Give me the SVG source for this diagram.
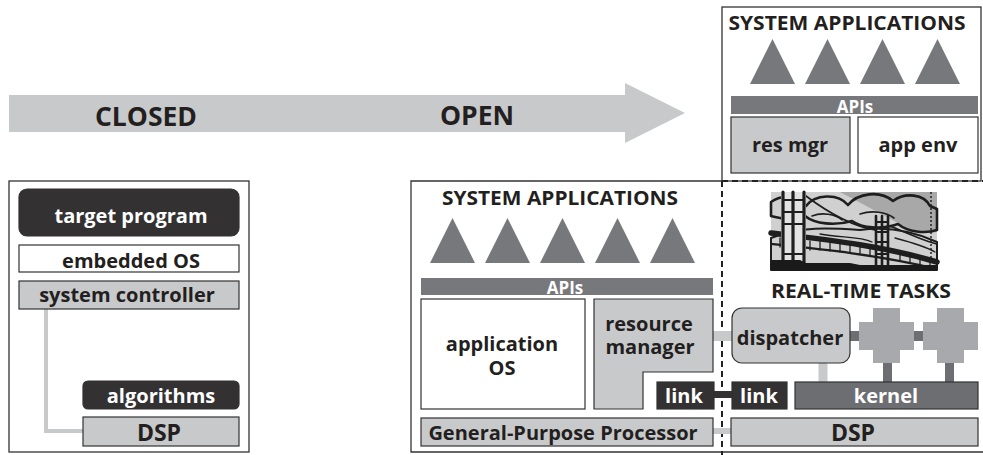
<svg xmlns="http://www.w3.org/2000/svg" width="983" height="455" viewBox="0 0 983 455">
  <defs>
    <style>
      text { font-family: "Open Sans", "Liberation Sans", sans-serif; font-weight: bold; text-anchor: middle; font-size: 20px; }
      .frame { fill: none; stroke: #333; stroke-width: 1.3; }
      .dash { fill: none; stroke: #222; stroke-width: 2; stroke-dasharray: 6 4; }
      .dark { fill: #333132; stroke: #333; stroke-width: 1.2; }
      .light { fill: #c8c9cb; stroke: #333; stroke-width: 1.2; }
      .white { fill: #fff; stroke: #333; stroke-width: 1.2; }
      .mid { fill: #77787b; }
      .kern { fill: #6d6e71; stroke: #333; stroke-width: 1.2; }
      .cross { fill: #a7a9ac; }
      .tw { fill: #fff; }
      .tb { fill: #231f20; }
      .lc { stroke: #c8c9cb; fill: none; }
      .dc { stroke: #333132; fill: none; }
      .gc { stroke: #6d6e71; fill: none; }
      .ink { fill: none; stroke: #1e1e1e; stroke-linecap: round; stroke-linejoin: round; }
    </style>
    <polygon id="tri" points="0,45 22.5,0 45,45" class="mid"/>
    <path id="plus" d="M14,0 H41 V14 H55 V42 H41 V55 H14 V42 H0 V14 H14 Z" class="cross"/>
  </defs>
  <rect width="983" height="455" fill="#fff"/>

  <!-- closed-to-open arrow -->
  <g id="arrow">
    <polygon points="9,95 625,95 625,83 685,113 625,143 625,132 9,132" fill="#c8c9cb"/>
    <text x="146" y="126" style="font-size:26.5px" class="tb">CLOSED</text>
    <text x="477" y="125" style="font-size:26.5px" class="tb">OPEN</text>
  </g>

  <!-- frames -->
  <g id="frames">
    <rect x="9" y="181" width="240" height="271" class="frame"/>
    <path d="M722,181 H411 V452 H983" class="frame"/>
    <rect x="722" y="7" width="259" height="174" class="frame"/>
    <path d="M722,181 V455" class="dash"/>
    <path d="M722,181 H983" class="dash"/>
  </g>

  <!-- connectors -->
  <g id="connectors">
    <path d="M46,309 V431 H83" class="lc" stroke-width="4"/>
    <path d="M713,336 H732" class="lc" stroke-width="10"/>
    <path d="M714,394.5 H732" class="dc" stroke-width="7"/>
    <path d="M713,431 H731" class="lc" stroke-width="6"/>
    <path d="M850,336 H859" class="gc" stroke-width="10"/>
    <path d="M913,336 H923" class="gc" stroke-width="10"/>
    <path d="M823,363 V382" class="lc" stroke-width="9"/>
    <path d="M887.5,363 V382" class="gc" stroke-width="9"/>
    <path d="M949.5,363 V382" class="gc" stroke-width="9"/>
  </g>

  <!-- closed system -->
  <g id="target-program">
    <rect x="19" y="189" width="220" height="47" rx="8" class="dark"/>
    <text x="131" y="223" class="tw">target program</text>
  </g>
  <g id="embedded-os">
    <rect x="19" y="245" width="220" height="27" class="white"/>
    <text x="131" y="268" class="tb">embedded OS</text>
  </g>
  <g id="system-controller">
    <rect x="19" y="281" width="220" height="28" class="light"/>
    <text x="127" y="302" class="tb">system controller</text>
  </g>
  <g id="algorithms">
    <rect x="83" y="381" width="156" height="28" rx="5" class="dark"/>
    <text x="161" y="403" class="tw">algorithms</text>
  </g>
  <g id="dsp-closed">
    <rect x="83" y="417" width="156" height="29" class="light"/>
    <text x="159" y="441" style="font-size:23px" class="tb">DSP</text>
  </g>

  <!-- open system, processor side -->
  <g id="apps-mid">
    <text x="560" y="205" style="font-size:19.5px" textLength="236" lengthAdjust="spacingAndGlyphs" class="tb">SYSTEM APPLICATIONS</text>
    <use href="#tri" x="430" y="218"/>
    <use href="#tri" x="485" y="218"/>
    <use href="#tri" x="540" y="218"/>
    <use href="#tri" x="595" y="218"/>
    <use href="#tri" x="650" y="218"/>
  </g>
  <g id="apis-mid">
    <rect x="421" y="278" width="292" height="17" class="mid"/>
    <text x="565" y="294" style="font-size:17px" class="tw">APIs</text>
  </g>
  <g id="application-os">
    <rect x="421" y="299" width="164" height="110" class="white"/>
    <text x="502" y="351" class="tb">application</text>
    <text x="502" y="375" class="tb">OS</text>
  </g>
  <g id="resource-manager">
    <path d="M594,299 H713 V372 H643 V409 H594 Z" class="light"/>
    <text x="649" y="331" class="tb">resource</text>
    <text x="650" y="354" class="tb">manager</text>
  </g>
  <g id="link-gpp">
    <rect x="657" y="382" width="57" height="27" class="dark"/>
    <text x="684" y="403" class="tw">link</text>
  </g>
  <g id="gpp">
    <rect x="421" y="418" width="292" height="28" class="light"/>
    <text x="563" y="440" class="tb">General-Purpose Processor</text>
  </g>

  <!-- open system, application side -->
  <g id="apps-top">
    <text x="847" y="30" style="font-size:19.5px" textLength="237" lengthAdjust="spacingAndGlyphs" class="tb">SYSTEM APPLICATIONS</text>
    <use href="#tri" x="750" y="39"/>
    <use href="#tri" x="805" y="39"/>
    <use href="#tri" x="860" y="39"/>
    <use href="#tri" x="915" y="39"/>
  </g>
  <g id="apis-top">
    <rect x="731" y="96" width="247" height="18" class="mid"/>
    <text x="855" y="113" style="font-size:17px" class="tw">APIs</text>
  </g>
  <g id="res-mgr">
    <rect x="731" y="117" width="119" height="56" class="light"/>
    <text x="790" y="152" class="tb">res mgr</text>
  </g>
  <g id="app-env">
    <rect x="858" y="117" width="120" height="56" class="white"/>
    <text x="918" y="152" class="tb">app env</text>
  </g>

  <!-- bridge illustration -->
  <g id="bridge-picture">
    <rect x="771" y="192" width="166" height="78" fill="#d0d0d0"/>
    <!-- sky -->
    <path d="M840,192 H937 V232 C925,234 910,230 900,224 Z" fill="#a8a8a8"/>
    <!-- cloud bank -->
    <path d="M771,202 C782,194 798,196 806,206 C815,194 838,193 848,205 C858,193 880,190 893,201 C905,192 924,194 930,206 L937,209 V230 C925,234 908,232 898,224 C882,230 862,228 852,221 C835,226 815,224 805,216 C795,221 782,219 771,216 Z" fill="#f6f6f6" class="ink" stroke-width="2.6"/>
    <path d="M812,216 C822,212 835,214 842,220 M860,214 C872,210 886,212 894,218" class="ink" stroke-width="1.6"/>
    <!-- hills -->
    <path d="M771,238 C800,226 830,228 860,230 C890,226 915,232 937,242 V270 H771 Z" fill="#dcdcdc" class="ink" stroke-width="2"/>
    <path d="M820,234 C840,238 860,236 872,242 M895,238 C910,242 925,246 935,252" class="ink" stroke-width="1.3"/>
    <!-- deck -->
    <path d="M771,233 C820,239 880,245 937,262" class="ink" stroke-width="5.5"/>
    <path d="M771,244 C820,249 880,255 937,269" class="ink" stroke-width="2.2"/>
    <path d="M780,238 V247 M790,239 V248 M800,240 V249 M810,241 V250 M820,241 V250 M830,242 V251 M840,243 V252 M850,244 V253 M860,245 V254 M870,246 V255 M900,251 V260 M910,254 V263 M920,256 V265 M930,259 V268" class="ink" stroke-width="1.3"/>
    <!-- main cable -->
    <path d="M806,196 C830,214 852,226 875,230 M890,226 C905,232 922,240 937,244" class="ink" stroke-width="1.6"/>
    <!-- near tower -->
    <rect x="781" y="192" width="25" height="74" fill="#e2e2e2"/>
    <path d="M783,192 V266 M793,192 V266 M804,192 V266" class="ink" stroke-width="3.2"/>
    <path d="M783,200 H804 M783,212 H804 M783,224 H804 M783,254 H804" class="ink" stroke-width="2"/>
    <!-- far tower -->
    <path d="M876,216 V266 M882,216 V266 M888,216 V266" class="ink" stroke-width="2.6"/>
    <path d="M876,222 H888 M876,232 H888 M876,242 H888 M876,254 H888" class="ink" stroke-width="1.8"/>
    <path d="M931,192 V262" fill="none" stroke="#222" stroke-width="1.5" stroke-dasharray="2 2"/>
    <!-- shoreline -->
    <path d="M771,260 H800 L806,263 H850 L860,265 H937 V271 H771 Z" fill="#1a1a1a"/>
  </g>

  <!-- open system, real-time side -->
  <g id="realtime-title">
    <text x="861" y="298" style="font-size:19.5px" textLength="180" lengthAdjust="spacingAndGlyphs" class="tb">REAL-TIME TASKS</text>
  </g>
  <g id="dispatcher">
    <rect x="732" y="308" width="118" height="55" rx="10" class="light"/>
    <text x="790" y="345" class="tb">dispatcher</text>
  </g>
  <g id="task-1"><use href="#plus" x="859" y="308"/></g>
  <g id="task-2"><use href="#plus" x="923" y="308"/></g>
  <g id="link-dsp">
    <rect x="732" y="382" width="55" height="27" class="dark"/>
    <text x="759" y="403" class="tw">link</text>
  </g>
  <g id="kernel">
    <rect x="795" y="382" width="183" height="27" class="kern"/>
    <text x="886" y="403" class="tw">kernel</text>
  </g>
  <g id="dsp-open">
    <rect x="731" y="418" width="247" height="28" class="light"/>
    <text x="853" y="441" style="font-size:23px" class="tb">DSP</text>
  </g>
</svg>
